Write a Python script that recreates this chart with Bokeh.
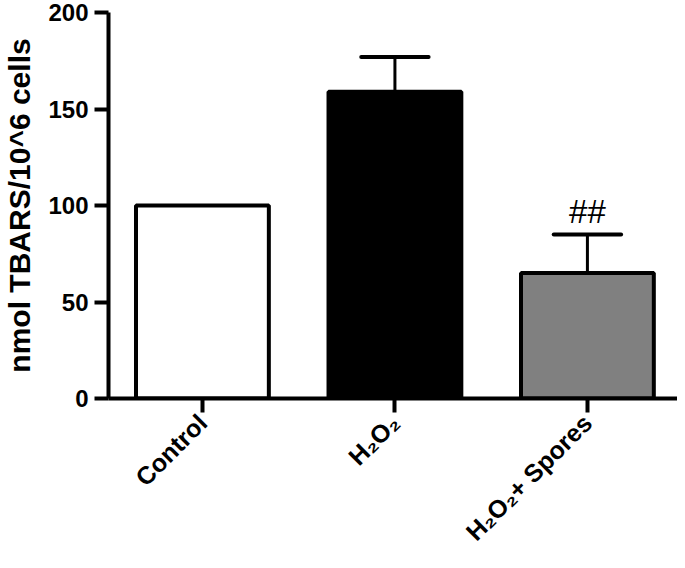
import math
from bokeh.plotting import figure
from bokeh.models import ColumnDataSource, FixedTicker, Range1d
from bokeh.embed import file_html
from bokeh.resources import INLINE
from bokeh.core.properties import value

categories = ["Control", "H\u2082O\u2082", "H\u2082O\u2082+ Spores"]
means = [100, 159, 65]
upper = [None, 177, 85]
colors = ["white", "black", "#808080"]
y_ticks = [0, 50, 100, 150, 200]
annotation = "##"

xs = list(range(len(categories)))

p = figure(width=677, height=560, output_backend="svg", toolbar_location=None,
           x_range=Range1d(-0.488, 2.468), y_range=Range1d(0, 200),
           min_border_left=108, min_border_top=12, min_border_right=0, min_border_bottom=162)
p.outline_line_color = None
p.xgrid.grid_line_color = None
p.ygrid.grid_line_color = None
p.background_fill_color = "white"

src = ColumnDataSource(dict(x=xs, top=means, color=colors))
p.vbar(x="x", top="top", bottom=0, width=0.69, fill_color="color",
       line_color="black", line_width=4, source=src)

ex = [x for x, u in zip(xs, upper) if u is not None]
ey0 = [m for m, u in zip(means, upper) if u is not None]
ey1 = [u for u in upper if u is not None]
p.segment(x0=ex, y0=ey0, x1=ex, y1=ey1, line_color="black", line_width=3)
p.segment(x0=[x - 0.175 for x in ex], y0=ey1, x1=[x + 0.175 for x in ex], y1=ey1,
          line_color="black", line_width=4, line_cap="round")

p.text(x=[2], y=[97], text=[annotation], text_align="center", text_baseline="middle",
       text_font=value("Liberation Sans"), text_font_size="33px", text_color="black")

for ax in (p.xaxis[0], p.yaxis[0]):
    ax.axis_line_width = 4
    ax.major_tick_line_width = 4
    ax.major_tick_out = 14
    ax.major_tick_in = 0
    ax.minor_tick_line_color = None
    ax.major_label_text_font = "Liberation Sans"
    ax.major_label_text_font_style = "bold"
    ax.major_label_text_color = "black"

p.yaxis.major_label_text_font_size = "24px"
p.xaxis.major_label_text_font_size = "25px"

p.yaxis.ticker = FixedTicker(ticks=y_ticks)
p.yaxis.major_label_standoff = 6
p.yaxis.axis_label = "nmol TBARS/10^6 cells"
p.yaxis.axis_label_text_font = "Liberation Sans"
p.yaxis.axis_label_text_font_style = "bold"
p.yaxis.axis_label_text_font_size = "30px"
p.yaxis.axis_label_text_color = "black"
p.yaxis.axis_label_standoff = 9

p.xaxis.ticker = FixedTicker(ticks=xs)
p.xaxis.major_label_overrides = {i: c for i, c in zip(xs, categories)}
p.xaxis.major_label_orientation = math.pi / 4
p.xaxis.major_label_standoff = 6

open("out.html", "w").write(file_html(p, INLINE))
